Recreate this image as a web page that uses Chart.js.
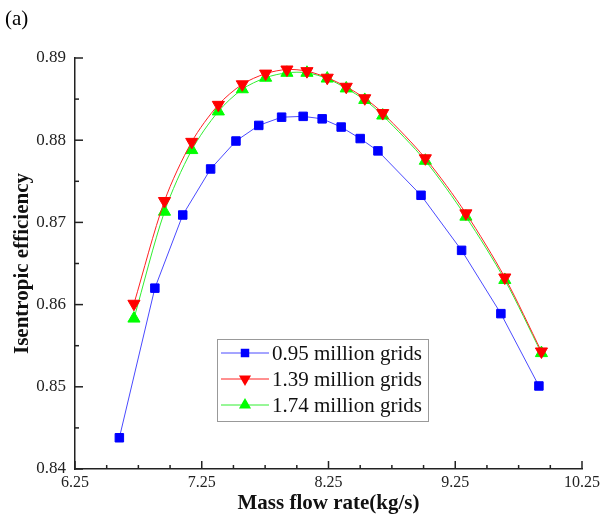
<!DOCTYPE html>
<html>
<head>
<meta charset="utf-8">
<script src="https://cdn.jsdelivr.net/npm/chart.js@4.4.0/dist/chart.umd.min.js"></script>
<style>
  html, body { margin: 0; padding: 0; background: #fff; }
  #wrap { width: 604px; height: 520px; }
</style>
</head>
<body>
<div id="wrap"><canvas id="myChart" width="604" height="520"></canvas></div>
<script>
// data
const x095 = [6.60, 6.88, 7.10, 7.32, 7.52, 7.70, 7.88, 8.05, 8.20, 8.35, 8.50, 8.64, 8.98, 9.30, 9.61, 9.91];
const y095 = [0.8438, 0.8620, 0.8709, 0.8765, 0.8799, 0.8818, 0.8828, 0.8829, 0.8826, 0.8816, 0.8802, 0.8787, 0.8733, 0.8666, 0.8589, 0.8501];

const x139 = [6.715, 6.956, 7.171, 7.381, 7.57, 7.754, 7.922, 8.08, 8.24, 8.39, 8.536, 8.678, 9.014, 9.334, 9.641, 9.93];
const y139 = [0.8601, 0.8726, 0.8798, 0.8843, 0.8868, 0.8881, 0.8886, 0.8884, 0.8876, 0.8865, 0.8851, 0.8833, 0.8778, 0.8711, 0.8633, 0.8543];

const x174 = [6.715, 6.956, 7.171, 7.381, 7.57, 7.754, 7.922, 8.08, 8.24, 8.39, 8.536, 8.678, 9.014, 9.334, 9.641, 9.93];
const y174 = [0.8583, 0.8713, 0.8788, 0.8835, 0.8862, 0.8876, 0.8882, 0.8882, 0.8875, 0.8863, 0.8849, 0.8830, 0.8775, 0.8707, 0.8630, 0.8541];

const seriesLabels = ['0.95 million grids', '1.39 million grids', '1.74 million grids'];
const xTicks = [6.25, 7.25, 8.25, 9.25, 10.25];
const yTicks = [0.84, 0.85, 0.86, 0.87, 0.88, 0.89];

const serif = '"Liberation Serif", "Times New Roman", serif';

function pts(xs, ys) {
    return xs.map((v, i) => ({ x: v, y: ys[i] }));
}

// axis ticks pointing into the plot, with minor ticks
const inwardTicks = {
    id: 'inwardTicks',
    afterDraw(chart) {
        const ctx = chart.ctx;
        const xs = chart.scales.x, ys = chart.scales.y;
        const a = chart.chartArea;
        ctx.save();
        ctx.strokeStyle = '#222';
        ctx.lineWidth = 1.5;
        // x
        for (let i = 0; i < xTicks.length; i++) {
            let px = xs.getPixelForValue(xTicks[i]);
            ctx.beginPath(); ctx.moveTo(px, a.bottom); ctx.lineTo(px, a.bottom - 8); ctx.stroke();
            if (i < xTicks.length - 1) {
                let step = (xTicks[i + 1] - xTicks[i]) / 4;
                for (let k = 1; k < 4; k++) {
                    let mx = xs.getPixelForValue(xTicks[i] + k * step);
                    ctx.beginPath(); ctx.moveTo(mx, a.bottom); ctx.lineTo(mx, a.bottom - 4); ctx.stroke();
                }
            }
        }
        // y
        for (let i = 0; i < yTicks.length; i++) {
            let py = ys.getPixelForValue(yTicks[i]);
            ctx.beginPath(); ctx.moveTo(a.left, py); ctx.lineTo(a.left + 8, py); ctx.stroke();
            if (i < yTicks.length - 1) {
                let my = ys.getPixelForValue((yTicks[i] + yTicks[i + 1]) / 2);
                ctx.beginPath(); ctx.moveTo(a.left, my); ctx.lineTo(a.left + 4, my); ctx.stroke();
            }
        }
        // (a) panel label
        ctx.fillStyle = '#000';
        ctx.font = '21px ' + serif;
        ctx.textBaseline = 'middle';
        ctx.fillText('(a)', 5, 19);
        ctx.restore();
    }
};

// boxed legend inside the plot
const boxLegend = {
    id: 'boxLegend',
    afterDraw(chart) {
        const ctx = chart.ctx;
        const bx = 217, by = 339, bw = 211, bh = 82;
        ctx.save();
        ctx.strokeStyle = '#999';
        ctx.lineWidth = 1;
        ctx.strokeRect(bx + 0.5, by + 0.5, bw, bh);
        ctx.font = '21px ' + serif;
        ctx.textBaseline = 'middle';
        chart.data.datasets.forEach((ds, i) => {
            const cy = by + 14 + i * 26;
            ctx.strokeStyle = ds.borderColor;
            ctx.lineWidth = 1;
            ctx.beginPath(); ctx.moveTo(bx + 4, cy); ctx.lineTo(bx + 52, cy); ctx.stroke();
            ctx.fillStyle = ds.pointBackgroundColor;
            ctx.strokeStyle = ds.pointBackgroundColor;
            Chart.helpers.drawPoint(ctx, {
                pointStyle: ds.pointStyle,
                rotation: ds.pointRotation || 0,
                radius: ds.pointRadius,
                borderWidth: 0
            }, bx + 28, cy);
            ctx.fillStyle = '#111';
            ctx.fillText(ds.label, bx + 55, cy + 1);
        });
        ctx.restore();
    }
};

const ctx = document.getElementById('myChart').getContext('2d');
const myChart = new Chart(ctx, {
    type: 'line',
    data: {
        datasets: [{
            label: seriesLabels[0],
            data: pts(x095, y095),
            borderColor: '#4a4aff',
            backgroundColor: '#0000ff',
            pointBackgroundColor: '#0000ff',
            pointBorderColor: '#0000ff',
            pointStyle: 'rect',
            pointRadius: 6,
            borderWidth: 1,
            tension: 0
        }, {
            label: seriesLabels[1],
            data: pts(x139, y139),
            borderColor: '#ff2020',
            backgroundColor: '#ff0000',
            pointBackgroundColor: '#ff0000',
            pointBorderColor: '#ff0000',
            pointStyle: 'triangle',
            pointRotation: 180,
            pointRadius: 7,
            borderWidth: 1,
            tension: 0.3
        }, {
            label: seriesLabels[2],
            data: pts(x174, y174),
            borderColor: '#30ee30',
            backgroundColor: '#00ff00',
            pointBackgroundColor: '#00ff00',
            pointBorderColor: '#00ff00',
            pointStyle: 'triangle',
            pointRadius: 7,
            borderWidth: 1,
            tension: 0.3
        }]
    },
    options: {
        responsive: false,
        animation: false,
        layout: { padding: { top: 58, right: 20, left: 0, bottom: 0 } },
        plugins: {
            legend: { display: false },
            tooltip: { enabled: false }
        },
        scales: {
            x: {
                type: 'linear',
                min: 6.25,
                max: 10.25,
                afterBuildTicks: (s) => { s.ticks = xTicks.map(v => ({ value: v })); },
                afterFit: (s) => { s.height = 51; },
                grid: { display: false, drawTicks: false },
                border: { display: true, color: '#222', width: 1.5 },
                ticks: {
                    color: '#222',
                    padding: 4,
                    maxRotation: 0,
                    font: { family: serif, size: 16 },
                    callback: (v) => v.toFixed(2)
                },
                title: {
                    display: true,
                    text: 'Mass flow rate(kg/s)',
                    color: '#111',
                    padding: { top: 0, bottom: 4 },
                    font: { family: serif, size: 21, weight: 'bold' }
                }
            },
            y: {
                min: 0.84,
                max: 0.89,
                afterBuildTicks: (s) => { s.ticks = yTicks.map(v => ({ value: v })); },
                afterFit: (s) => { s.width = 75; },
                grid: { display: false, drawTicks: false },
                border: { display: true, color: '#222', width: 1.5 },
                ticks: {
                    color: '#222',
                    padding: 9,
                    font: { family: serif, size: 17 },
                    callback: (v) => v.toFixed(2)
                },
                title: {
                    display: true,
                    text: 'Isentropic efficiency',
                    color: '#111',
                    padding: { top: 10, bottom: 0 },
                    font: { family: serif, size: 21, weight: 'bold' }
                }
            }
        }
    },
    plugins: [inwardTicks, boxLegend]
});
</script>
</body>
</html>
